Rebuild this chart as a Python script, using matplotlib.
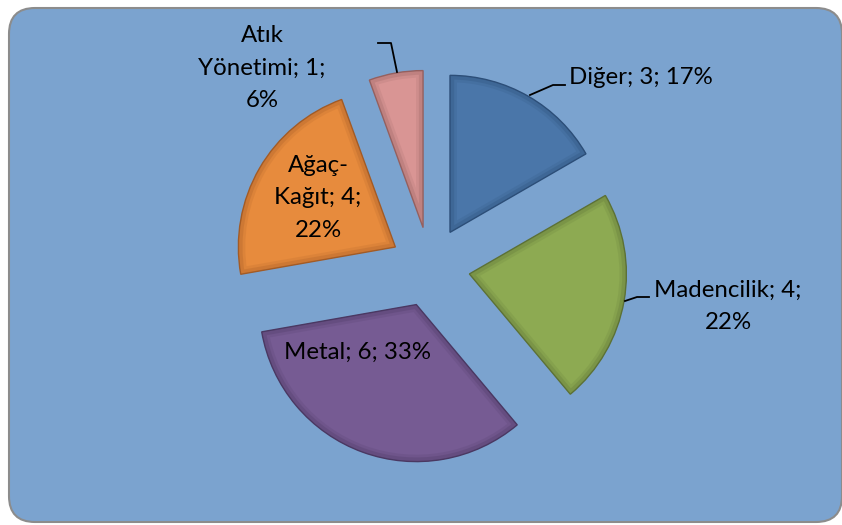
import textwrap
import matplotlib
matplotlib.use("Agg")
import matplotlib.pyplot as plt
from matplotlib.patches import FancyBboxPatch, Wedge

# sector counts
names = ["Diğer", "Madencilik", "Metal", "Ağaç-Kağıt", "Atık Yönetimi"]
counts = [3, 4, 6, 4, 1]
wrap_widths = [20, 14, 20, 10, 12]

colors = ["#4A76A9", "#8DAA52", "#765B93", "#E78B3D", "#D99594"]
edge_colors = ["#2C4E78", "#5C7136", "#4A3862", "#A25B26", "#94605F"]

W, H = 842, 525
fig = plt.figure(figsize=(W / 100, H / 100), dpi=100)
ax = fig.add_axes([0, 0, 1, 1])

# rounded chart-area panel
panel = FancyBboxPatch((9, 3), 833, 514, boxstyle="round,pad=0,rounding_size=26",
                       facecolor="#7BA3CF", edgecolor="#8C8C8C", linewidth=1.5, zorder=0)
ax.add_patch(panel)

total = sum(counts)
wedges, _ = ax.pie(counts, colors=colors, startangle=90, counterclock=False,
                   radius=157, center=(430, H - 267), explode=[40] * len(counts),
                   wedgeprops=dict(linewidth=0))
for w, ec in zip(wedges, edge_colors):
    w.set_zorder(2)
    # bevel: a wide dark edge clipped to the wedge itself leaves an inner band
    for lw, a in [(10, 0.15), (6, 0.25)]:
        bevel = Wedge(w.center, w.r, w.theta1, w.theta2, facecolor="none",
                      edgecolor=ec, linewidth=lw, alpha=a, zorder=2.5)
        ax.add_patch(bevel)
        bevel.set_clip_path(w)
    rim = Wedge(w.center, w.r, w.theta1, w.theta2, facecolor="none",
                edgecolor=ec, linewidth=1.0, zorder=2.6)
    ax.add_patch(rim)

labels = [textwrap.fill(f"{n}; {c}; {round(100 * c / total)}%", width=ww)
          for n, c, ww in zip(names, counts, wrap_widths)]

# label anchors (pixel coords from the top-left)
label_pos = [(641, 78), (728, 306), (357, 352), (318, 198), (262, 68)]
for txt, (x, y) in zip(labels, label_pos):
    ax.text(x, H - y, txt, ha="center", va="center", fontsize=17.3,
            family=["Lato", "DejaVu Sans"], color="black", linespacing=1.65, zorder=4)

# leader lines for outside labels
leaders = [[(530, 95), (553, 85), (565, 85)],
           [(625, 301), (637, 297), (649, 297)],
           [(397, 72), (391, 43), (378, 43)]]
for pts in leaders:
    ax.plot([p[0] for p in pts], [H - p[1] for p in pts], color="black", lw=1.3, zorder=3)

ax.set_xlim(0, W)
ax.set_ylim(0, H)
ax.set_aspect("equal")
ax.axis("off")
fig.savefig("out.png", dpi=100, facecolor="white")
